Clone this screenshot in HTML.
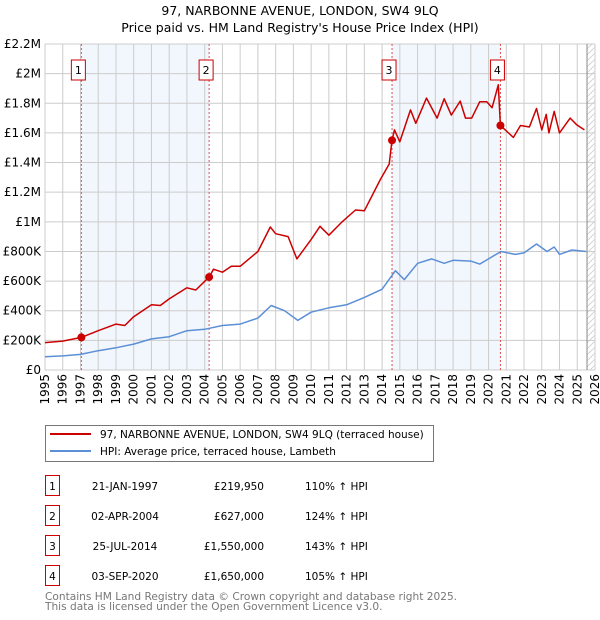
<!DOCTYPE html>
<html><head><meta charset="utf-8"><style>
body{margin:0;background:#fff;font-family:"DejaVu Sans","Liberation Sans",sans-serif;}
#wrap{position:relative;width:600px;height:620px;overflow:hidden;}
</style></head><body>
<div id="wrap">
<svg id="chart" width="600" height="620" xmlns="http://www.w3.org/2000/svg" style="position:absolute;left:0;top:0;font-family:'DejaVu Sans','Liberation Sans',sans-serif"></svg>
</div>
<script>
const hpiYears=[1995,1996,1997,1998,1999,2000,2001,2002,2003,2004,2005,2006,2007,2007.75,2008.5,2009.25,2010,2011,2012,2013,2014,2014.75,2015.25,2016,2016.8,2017.5,2018,2019,2019.5,2020,2020.7,2021.5,2022,2022.7,2023.3,2023.7,2024,2024.7,2025.5];
const hpiValues=[90,95,105,130,150,175,210,225,265,275,300,310,350,435,400,335,390,420,440,490,545,670,610,720,750,720,740,735,715,750,800,780,790,850,800,830,780,810,800];
const priceYears=[1995,1996,1997.05,1998,1999,1999.5,2000,2001,2001.5,2002,2003,2003.5,2004.25,2004.5,2005,2005.5,2006,2007,2007.7,2008,2008.7,2009.2,2010,2010.5,2011,2011.7,2012.5,2013,2013.9,2014.4,2014.56,2014.7,2015,2015.6,2015.9,2016.5,2017.1,2017.5,2017.9,2018.4,2018.7,2019.05,2019.5,2019.9,2020.2,2020.55,2020.67,2021.4,2021.8,2022.3,2022.7,2023,2023.25,2023.4,2023.7,2024,2024.6,2024.97,2025.4];
const priceValues=[185,195,220,265,310,300,360,440,435,480,555,540,627,680,660,700,700,800,965,920,900,750,880,970,910,995,1080,1075,1285,1390,1550,1620,1540,1755,1665,1835,1700,1830,1720,1815,1700,1700,1810,1810,1770,1925,1650,1570,1650,1640,1765,1620,1725,1600,1745,1600,1700,1655,1620];
const saleYears=[1997.05,2004.25,2014.56,2020.67];
const saleValues=[219.95,627,1550,1650];
const saleLabels=["1","2","3","4"];
const yTicks=[0,200,400,600,800,1000,1200,1400,1600,1800,2000,2200];
const yTickLabels=["£0","£200K","£400K","£600K","£800K","£1M","£1.2M","£1.4M","£1.6M","£1.8M","£2M","£2.2M"];
const xTicks=[1995,1996,1997,1998,1999,2000,2001,2002,2003,2004,2005,2006,2007,2008,2009,2010,2011,2012,2013,2014,2015,2016,2017,2018,2019,2020,2021,2022,2023,2024,2025,2026];

const X0=45,X1=595,Y0=370,Y1=44;
const xs=y=>X0+(y-1995)/(2026-1995)*(X1-X0);
const ys=v=>Y0-v/2200*(Y0-Y1);
const NS="http://www.w3.org/2000/svg";
const svg=document.getElementById('chart');
function mk(t,a,p){const e=document.createElementNS(NS,t);for(const k in a)e.setAttribute(k,a[k]);(p||svg).appendChild(e);return e;}

let t=mk('text',{x:300,y:15,'text-anchor':'middle','font-size':12.5,fill:'#000'});t.textContent="97, NARBONNE AVENUE, LONDON, SW4 9LQ";


t=mk('text',{x:300,y:32,'text-anchor':'middle','font-size':12.5,fill:'#000'});t.textContent="Price paid vs. HM Land Registry's House Price Index (HPI)";



for(let i=0;i<4;i+=2){const r=mk('rect',{x:xs(saleYears[i]),y:Y1,width:xs(saleYears[i+1])-xs(saleYears[i]),height:Y0-Y1,fill:'#f2f6fd'});

}
const defs=mk('defs',{});const pat=mk('pattern',{id:'h',width:6,height:6,patternUnits:'userSpaceOnUse'},defs);
mk('path',{d:'M0,6 L6,0',stroke:'#ccc','stroke-width':0.8},pat);
const hx=xs(2025.55);
let hr=mk('rect',{x:hx,y:Y1,width:X1-hx,height:Y0-Y1,fill:'url(#h)'});



yTicks.forEach((v,i)=>{mk('line',{x1:X0,x2:X1,y1:ys(v),y2:ys(v),stroke:'#cccccc','stroke-width':1});
const l=mk('text',{x:X0-4,y:ys(v)+4,'text-anchor':'end','font-size':12,fill:'#000'});l.textContent=yTickLabels[i];

});
xTicks.forEach(y=>{mk('line',{x1:xs(y),x2:xs(y),y1:Y1,y2:Y0,stroke:'#cccccc','stroke-width':1});
const l=mk('text',{x:0,y:0,'text-anchor':'end','font-size':12,fill:'#000',transform:`translate(${xs(y)+4},${Y0+4}) rotate(-90)`});l.textContent=y;

});
mk('line',{x1:hx,x2:hx,y1:Y1,y2:Y0,stroke:'#888','stroke-width':1});

saleYears.forEach((y,i)=>{mk('line',{x1:xs(y),x2:xs(y),y1:Y1,y2:Y0,stroke:'#e05050','stroke-width':1,'stroke-dasharray':'2,2'});
const g=mk('g',{});


mk('rect',{x:xs(y)-10,y:60,width:14,height:20,fill:'#fff',stroke:'#cc0000','stroke-width':1},g);
const l=mk('text',{x:xs(y)-3,y:74,'text-anchor':'middle','font-size':11,fill:'#000'},g);l.textContent=saleLabels[i];});

function line(xa,va,col,name){const d=xa.map((y,i)=>(i?'L':'M')+xs(y).toFixed(1)+','+ys(va[i]).toFixed(1)).join(' ');
const p=mk('path',{d:d,fill:'none',stroke:col,'stroke-width':1.5,'stroke-linejoin':'round'});

}
line(hpiYears,hpiValues,'#5b8fd6','hpi-line');
line(priceYears,priceValues,'#cc0000','price-line');
saleYears.forEach((y,i)=>{const c=mk('circle',{cx:xs(y),cy:ys(saleValues[i]),r:4,fill:'#cc0000'});

});

const lg=mk('g',{});


mk('rect',{x:45.5,y:425.5,width:388,height:36,fill:'#fff',stroke:'#777'},lg);
mk('line',{x1:50,x2:91,y1:434,y2:434,stroke:'#cc0000','stroke-width':2},lg);
mk('line',{x1:50,x2:91,y1:451,y2:451,stroke:'#5b8fd6','stroke-width':2},lg);
t=mk('text',{x:100,y:438,'font-size':10.5,fill:'#000'},lg);t.textContent="97, NARBONNE AVENUE, LONDON, SW4 9LQ (terraced house)";
t=mk('text',{x:100,y:455,'font-size':10.5,fill:'#000'},lg);t.textContent="HPI: Average price, terraced house, Lambeth";

const dates=["21-JAN-1997","02-APR-2004","25-JUL-2014","03-SEP-2020"];
const prices=["£219,950","£627,000","£1,550,000","£1,650,000"];
const pcts=["110% ↑ HPI","124% ↑ HPI","143% ↑ HPI","105% ↑ HPI"];
dates.forEach((d,i)=>{const yy=483+i*30;const g=mk('g',{});


mk('rect',{x:45.5,y:yy-7.5,width:14,height:20,fill:'#fff',stroke:'#cc0000'},g);
let s=mk('text',{x:52.5,y:yy+7,'text-anchor':'middle','font-size':10.5},g);s.textContent=saleLabels[i];
s=mk('text',{x:125,y:yy+7,'text-anchor':'middle','font-size':10.5},g);s.textContent=d;
s=mk('text',{x:264,y:yy+7,'text-anchor':'end','font-size':10.5},g);s.textContent=prices[i];
s=mk('text',{x:305,y:yy+7,'font-size':10.5},g);s.textContent=pcts[i];});
t=mk('text',{x:45,y:600,'font-size':10.6,fill:'#777'});t.textContent="Contains HM Land Registry data © Crown copyright and database right 2025.";


t=mk('text',{x:45,y:610,'font-size':10.6,fill:'#777'});t.textContent="This data is licensed under the Open Government Licence v3.0.";


</script>
</body></html>
